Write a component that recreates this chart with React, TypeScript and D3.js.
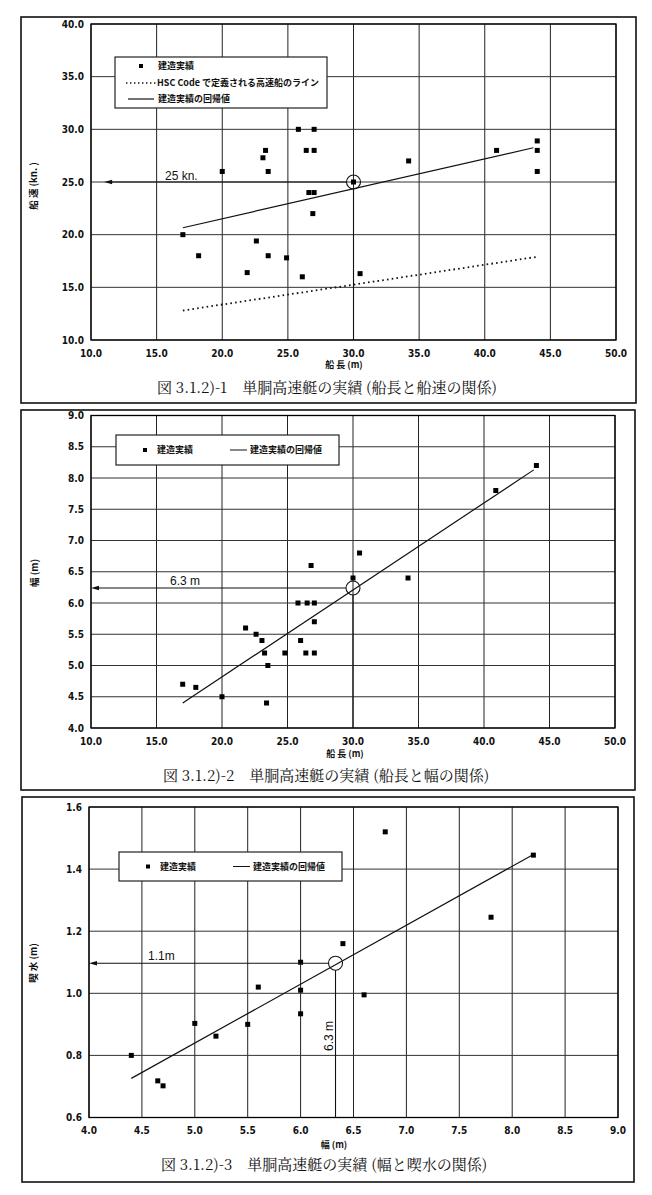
import React from 'react';
import * as d3 from 'd3';

// ---------- Data ----------
// Panel 1: 船長 (m) vs 船速 (kn.)
const p1Length = [17.0, 18.2, 20.0, 21.9, 22.6, 23.1, 23.3, 23.5, 23.5, 24.9, 25.8, 26.1, 26.4, 26.6, 26.9, 27.0, 27.0, 27.0, 30.0, 30.5, 34.2, 40.9, 44.0, 44.0, 44.0];
const p1Speed = [20.0, 18.0, 26.0, 16.4, 19.4, 27.3, 28.0, 26.0, 18.0, 17.8, 30.0, 16.0, 28.0, 24.0, 22.0, 30.0, 28.0, 24.0, 25.0, 16.3, 27.0, 28.0, 28.9, 28.0, 26.0];
const p1RegX = [17.0, 43.7];
const p1RegY = [20.66, 28.25];
const p1HscX = [17.0, 44.0];
const p1HscY = [12.8, 17.9];
const p1XTicks = [10, 15, 20, 25, 30, 35, 40, 45, 50];
const p1YTicks = [10, 15, 20, 25, 30, 35, 40];
const p1Mark = [30.0, 25.0];

// Panel 2: 船長 (m) vs 幅 (m)
const p2Length = [17.0, 18.0, 20.0, 21.8, 22.6, 23.05, 23.25, 23.4, 23.5, 24.8, 25.8, 26.0, 26.4, 26.5, 26.8, 27.05, 27.05, 27.05, 30.0, 30.5, 34.2, 40.9, 44.0];
const p2Breadth = [4.7, 4.65, 4.5, 5.6, 5.5, 5.4, 5.2, 4.4, 5.0, 5.2, 6.0, 5.4, 5.2, 6.0, 6.6, 6.0, 5.7, 5.2, 6.4, 6.8, 6.4, 7.8, 8.2];
const p2RegX = [17.0, 43.8];
const p2RegY = [4.4, 8.13];
const p2XTicks = [10, 15, 20, 25, 30, 35, 40, 45, 50];
const p2YTicks = [4.0, 4.5, 5.0, 5.5, 6.0, 6.5, 7.0, 7.5, 8.0, 8.5, 9.0];
const p2Mark = [30.0, 6.24];

// Panel 3: 幅 (m) vs 喫水 (m)
const p3Breadth = [4.4, 4.65, 4.7, 5.0, 5.2, 5.5, 5.6, 6.0, 6.0, 6.0, 6.4, 6.6, 6.8, 7.8, 8.2];
const p3Draft = [0.8, 0.718, 0.702, 0.903, 0.862, 0.9, 1.02, 1.1, 1.01, 0.934, 1.16, 0.995, 1.52, 1.245, 1.445];
const p3RegX = [4.4, 8.2];
const p3RegY = [0.726, 1.447];
const p3XTicks = [4.0, 4.5, 5.0, 5.5, 6.0, 6.5, 7.0, 7.5, 8.0, 8.5, 9.0];
const p3YTicks = [0.6, 0.8, 1.0, 1.2, 1.4, 1.6];
const p3Mark = [6.33, 1.097];

const legendPoint = '建造実績';
const legendHsc = 'HSC Code で定義される高速船のライン';
const legendReg = '建造実績の回帰値';

const TICK_FONT = '"DejaVu Sans Condensed", "DejaVu Sans", sans-serif';
const CJK_FONT = '"Noto Sans CJK JP", "Noto Sans", sans-serif';
const ANN_FONT = '"Liberation Sans", Arial, sans-serif';

type PanelCfg = {
  frame: [number, number, number, number];
  plot: { left: number; right: number; top: number; bottom: number };
  xDomain: [number, number];
  yDomain: [number, number];
  xTicks: number[];
  yTicks: number[];
  yFmt: string;
  xs: number[];
  ys: number[];
  regX: number[];
  regY: number[];
  hscX?: number[];
  hscY?: number[];
  mark: number[];
  arrowTo: number; // data x where the arrow tip is
  annText: string;
  annPos: [number, number];
  vertText?: string;
  vertPos?: [number, number];
  xTitle: string;
  xTitlePos: [number, number];
  yTitle: string;
  yTitlePos: [number, number];
  caption: string;
  captionPos: [number, number];
  legend: { box: [number, number, number, number]; twoRow: boolean };
};

const panels: PanelCfg[] = [
  {
    frame: [21, 17, 636, 403],
    plot: { left: 91, right: 616, top: 24, bottom: 340 },
    xDomain: [10, 50],
    yDomain: [10, 40],
    xTicks: p1XTicks,
    yTicks: p1YTicks,
    yFmt: '.1f',
    xs: p1Length,
    ys: p1Speed,
    regX: p1RegX,
    regY: p1RegY,
    hscX: p1HscX,
    hscY: p1HscY,
    mark: p1Mark,
    arrowTo: 11.0,
    annText: '25 kn.',
    annPos: [165, 180],
    xTitle: '船 長 (m)',
    xTitlePos: [344, 365],
    yTitle: '船 速 (kn. )',
    yTitlePos: [34, 186],
    caption: '図 3.1.2)-1　単胴高速艇の実績 (船長と船速の関係)',
    captionPos: [327, 388],
    legend: { box: [115, 57, 327, 108], twoRow: true },
  },
  {
    frame: [21, 410, 635, 790],
    plot: { left: 91, right: 615, top: 415.5, bottom: 728 },
    xDomain: [10, 50],
    yDomain: [4, 9],
    xTicks: p2XTicks,
    yTicks: p2YTicks,
    yFmt: '.1f',
    xs: p2Length,
    ys: p2Breadth,
    regX: p2RegX,
    regY: p2RegY,
    mark: p2Mark,
    arrowTo: 10,
    annText: '6.3 m',
    annPos: [170, 585],
    xTitle: '船 長 (m)',
    xTitlePos: [345, 754],
    yTitle: '幅 (m)',
    yTitlePos: [35, 573],
    caption: '図 3.1.2)-2　単胴高速艇の実績 (船長と幅の関係)',
    captionPos: [326, 776],
    legend: { box: [116, 435, 339, 465], twoRow: false },
  },
  {
    frame: [22, 797, 634, 1182],
    plot: { left: 89, right: 618, top: 807, bottom: 1117.5 },
    xDomain: [4, 9],
    yDomain: [0.6, 1.6],
    xTicks: p3XTicks,
    yTicks: p3YTicks,
    yFmt: '.1f',
    xs: p3Breadth,
    ys: p3Draft,
    regX: p3RegX,
    regY: p3RegY,
    mark: p3Mark,
    arrowTo: 4.0,
    annText: '1.1m',
    annPos: [148, 960],
    vertText: '6.3 m',
    vertPos: [329, 1036],
    xTitle: '幅 (m)',
    xTitlePos: [334, 1145],
    yTitle: '喫 水 (m)',
    yTitlePos: [34, 963],
    caption: '図 3.1.2)-3　単胴高速艇の実績 (幅と喫水の関係)',
    captionPos: [324, 1165],
    legend: { box: [119, 852, 342, 881], twoRow: false },
  },
];

function Panel({ cfg }: { cfg: PanelCfg }) {
  const { plot } = cfg;
  const x = d3.scaleLinear().domain(cfg.xDomain).range([plot.left, plot.right]);
  const y = d3.scaleLinear().domain(cfg.yDomain).range([plot.bottom, plot.top]);
  const fmt = d3.format(cfg.yFmt);
  const line = d3
    .line<number>()
    .x((d) => x(cfg.regX[d]))
    .y((d) => y(cfg.regY[d]));
  const hscLine =
    cfg.hscX && cfg.hscY
      ? d3
          .line<number>()
          .x((d) => x(cfg.hscX![d]))
          .y((d) => y(cfg.hscY![d]))([0, 1])
      : null;
  const mx = x(cfg.mark[0]);
  const my = y(cfg.mark[1]);
  const r = 7;
  const tipX = x(cfg.arrowTo);
  const [fx0, fy0, fx1, fy1] = cfg.frame;
  const [lx0, ly0, lx1, ly1] = cfg.legend.box;
  const ms = 5;

  return (
    <g>
      <rect x={fx0} y={fy0} width={fx1 - fx0} height={fy1 - fy0} fill="#fff" stroke="#111" strokeWidth={1.6} />
      {/* grid */}
      {cfg.xTicks.map((t) => (
        <line key={'gx' + t} x1={x(t)} x2={x(t)} y1={plot.top} y2={plot.bottom} stroke="#222" strokeWidth={1} />
      ))}
      {cfg.yTicks.map((t) => (
        <line key={'gy' + t} x1={plot.left} x2={plot.right} y1={y(t)} y2={y(t)} stroke="#333" strokeWidth={1} />
      ))}
      <rect x={plot.left} y={plot.top} width={plot.right - plot.left} height={plot.bottom - plot.top} fill="none" stroke="#000" strokeWidth={1.3} />
      {/* tick labels */}
      {cfg.yTicks.map((t) => (
        <text key={'ly' + t} x={plot.left - 7} y={y(t)} dy="0.35em" textAnchor="end" fontFamily={TICK_FONT} fontWeight="bold" fontSize={10} fill="#111">
          {fmt(t)}
        </text>
      ))}
      {cfg.xTicks.map((t) => (
        <text key={'lx' + t} x={x(t)} y={plot.bottom + 13} dy="0.35em" textAnchor="middle" fontFamily={TICK_FONT} fontWeight="bold" fontSize={10} fill="#111">
          {fmt(t)}
        </text>
      ))}
      {/* axis titles */}
      <text x={cfg.xTitlePos[0]} y={cfg.xTitlePos[1]} dy="0.35em" textAnchor="middle" fontFamily={CJK_FONT} fontWeight="bold" fontSize={9} fill="#111">
        {cfg.xTitle}
      </text>
      <text transform={`translate(${cfg.yTitlePos[0]},${cfg.yTitlePos[1]}) rotate(-90)`} dy="0.35em" textAnchor="middle" fontFamily={CJK_FONT} fontWeight="bold" fontSize={9.5} fill="#111">
        {cfg.yTitle}
      </text>
      {/* regression lines */}
      {hscLine && <path d={hscLine} fill="none" stroke="#111" strokeWidth={1.8} strokeDasharray="1.6 3.2" />}
      <path d={line([0, 1]) || ''} fill="none" stroke="#111" strokeWidth={1.2} />
      {/* data points */}
      {cfg.xs.map((v, i) => (
        <rect key={'p' + i} x={x(v) - ms / 2} y={y(cfg.ys[i]) - ms / 2} width={ms} height={ms} fill="#000" />
      ))}
      {/* annotation */}
      <circle cx={mx} cy={my} r={r} fill="none" stroke="#111" strokeWidth={1.1} />
      <line x1={mx - r} x2={tipX + 6} y1={my} y2={my} stroke="#111" strokeWidth={1.1} />
      <path d={`M${tipX},${my} L${tipX + 8},${my - 2.2} L${tipX + 8},${my + 2.2} Z`} fill="#111" />
      <line x1={mx} x2={mx} y1={my + r} y2={plot.bottom} stroke="#111" strokeWidth={1.1} />
      <text x={cfg.annPos[0]} y={cfg.annPos[1]} fontFamily={ANN_FONT} fontSize={12} fill="#111">
        {cfg.annText}
      </text>
      {cfg.vertText && cfg.vertPos && (
        <text transform={`translate(${cfg.vertPos[0]},${cfg.vertPos[1]}) rotate(-90)`} dy="0.35em" textAnchor="middle" fontFamily={ANN_FONT} fontSize={12} fill="#111">
          {cfg.vertText}
        </text>
      )}
      {/* legend */}
      <rect x={lx0} y={ly0} width={lx1 - lx0} height={ly1 - ly0} fill="#fff" stroke="#222" strokeWidth={1.2} />
      {cfg.legend.twoRow ? (
        <g fontFamily={CJK_FONT} fontWeight="bold" fontSize={9} fill="#111">
          <rect x={141 - 2} y={66 - 2} width={4} height={4} fill="#000" />
          <text x={158} y={66} dy="0.35em">{legendPoint}</text>
          <line x1={126} x2={156} y1={83} y2={83} stroke="#111" strokeWidth={1.6} strokeDasharray="1.4 2.6" />
          <text x={157} y={83} dy="0.35em">{legendHsc}</text>
          <line x1={128} x2={154} y1={99} y2={99} stroke="#111" strokeWidth={1.2} />
          <text x={158} y={99} dy="0.35em">{legendReg}</text>
        </g>
      ) : (
        <g fontFamily={CJK_FONT} fontWeight="bold" fontSize={9} fill="#111">
          <rect x={lx0 + 29 - 2} y={(ly0 + ly1) / 2 - 2} width={4} height={4} fill="#000" />
          <text x={lx0 + 41} y={(ly0 + ly1) / 2} dy="0.35em">{legendPoint}</text>
          <line x1={lx0 + 114} x2={lx0 + 131} y1={(ly0 + ly1) / 2} y2={(ly0 + ly1) / 2} stroke="#111" strokeWidth={1} />
          <text x={lx0 + 134} y={(ly0 + ly1) / 2} dy="0.35em">{legendReg}</text>
        </g>
      )}
      {/* caption */}
      <text x={cfg.captionPos[0]} y={cfg.captionPos[1]} dy="0.35em" textAnchor="middle" fontFamily={'"Noto Serif CJK JP", ' + CJK_FONT} fontSize={15} fill="#111">
        {cfg.caption}
      </text>
    </g>
  );
}

export default function App() {
  return (
    <svg width={652} height={1195} style={{ position: 'absolute', left: 0, top: 0, background: '#fff' }}>
      <rect x={0} y={0} width={652} height={1195} fill="#fff" />
      {panels.map((p, i) => (
        <Panel key={i} cfg={p} />
      ))}
    </svg>
  );
}
